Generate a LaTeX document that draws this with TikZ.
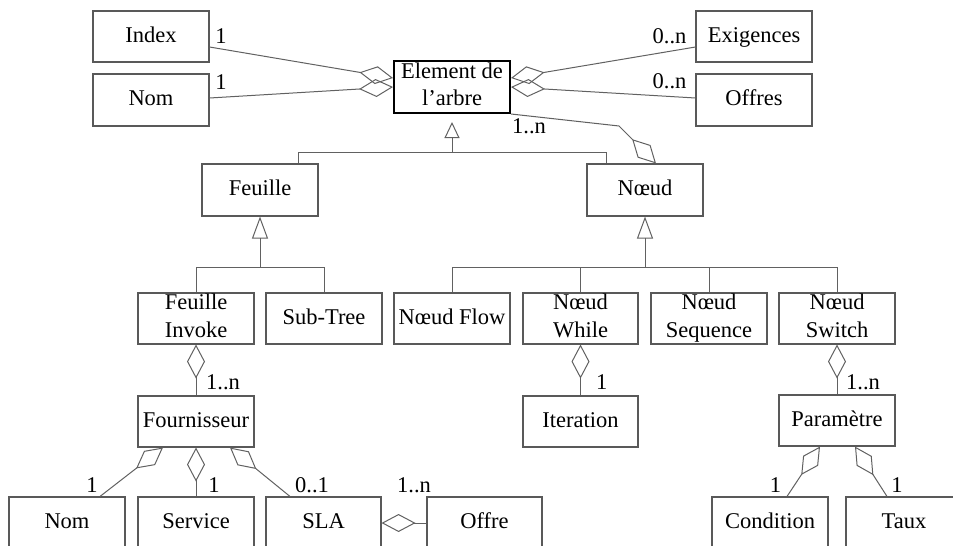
\documentclass[tikz,border=0pt]{standalone}
\usepackage{fontspec}
\setmainfont{Liberation Serif}
\usetikzlibrary{arrows.meta,calc}
\definecolor{linec}{gray}{0.38}
\definecolor{boxc}{gray}{0.35}
\newcommand{\topstrut}{\rule{0pt}{17pt}}
\newcommand{\botstrut}{\rule[-6pt]{0pt}{6pt}}
\begin{document}
\begin{tikzpicture}[x=1pt,y=-1pt,
  font=\fontsize{22.5}{27.5}\selectfont,
  box/.style={draw=boxc, line width=1.1pt, minimum width=116pt, minimum height=51pt, inner sep=0pt, align=center, text=black,
    execute at begin node=\topstrut, execute at end node=\botstrut},
  mainbox/.style={box, draw=black, line width=2pt},
  conn/.style={draw=linec, line width=1pt},
  agg/.style={conn, {Diamond[open,length=34pt,width=18pt]}-},
  gen/.style={conn, -{Triangle[open,length=22pt,width=16pt]}},
  lbl/.style={anchor=base, inner sep=0pt, text=black}
]
\path[use as bounding box] (0,0) rectangle (953,546);
\clip (0,0) rectangle (953,546);

% top row
\node[box] (Index) at (151,36.5) {Index};
\node[box, minimum height=52pt] (NomTop) at (151,100) {Nom};
\node[mainbox, minimum height=52pt] (Element) at (452,87) {Element de\\l’arbre};
\node[box] (Exigences) at (754,36.5) {Exigences};
\node[box, minimum height=52pt] (Offres) at (754,100) {Offres};

% second row
\node[box, minimum height=52pt] (Feuille) at (260,190) {Feuille};
\node[box, minimum height=52pt] (Noeud) at (645,190) {Nœud};

% third row
\node[box] (FInvoke) at (196,318.5) {Feuille\\Invoke};
\node[box] (SubTree) at (324,318.5) {Sub-Tree};
\node[box] (NFlow) at (452,318.5) {Nœud Flow};
\node[box, minimum width=115pt] (NWhile) at (580.5,318.5) {Nœud\\While};
\node[box] (NSeq) at (709,318.5) {Nœud\\Sequence};
\node[box] (NSwitch) at (837,318.5) {Nœud\\Switch};

% fourth row
\node[box] (Fournisseur) at (196,421.5) {Fournisseur};
\node[box, minimum width=115pt] (Iteration) at (580.5,421.5) {Iteration};
\node[box] (Parametre) at (837,420.5) {Paramètre};

% bottom row
\node[box, minimum height=52pt] (NomB) at (67,523) {Nom};
\node[box, minimum height=52pt] (Service) at (196,523) {Service};
\node[box, minimum height=52pt, minimum width=115pt] (SLA) at (323.5,523) {SLA};
\node[box, minimum height=52pt, minimum width=115pt] (Offre) at (484.5,523) {Offre};
\node[box, minimum height=52pt] (Condition) at (770,523) {Condition};
\node[box, minimum height=52pt] (Taux) at (904,523) {Taux};

% aggregations around Element
\draw[agg] ([yshift=9pt]Element.west) -- ([yshift=-10.5pt]Index.east);
\draw[agg] (Element.west) -- ([yshift=2pt]NomTop.east);
\draw[agg] ([yshift=9pt]Element.east) -- ([yshift=-10.5pt]Exigences.west);
\draw[agg] (Element.east) -- ([yshift=2pt]Offres.west);
\node[lbl] (l1) at (221,43) {1};
\node[lbl] (l2) at (221,89) {1};
\node[lbl] (l3) at (669.5,43) {0..n};
\node[lbl] (l4) at (669.5,88) {0..n};

% Element -- Noeud aggregation
\coordinate (b1) at (619,126);
\coordinate (b2) at (632,139);
\draw[agg] ([xshift=11pt]Noeud.north) -- (b2) -- (b1) -- (Element.south east);
\node[lbl] (l5) at (529,133) {1..n};

% generalization Element
\coordinate (busTop) at (452,152);
\draw[conn, -{Triangle[open,length=16pt,width=15pt]}, shorten >=8pt] (busTop) -- (Element.south);
\draw[conn] ([xshift=38pt]Feuille.north) |- (busTop);
\draw[conn] ([xshift=-39pt]Noeud.north) |- (busTop);

% generalization Feuille
\coordinate (fbus) at (260,267);
\draw[gen] (fbus) -- (Feuille.south);
\draw[conn] (FInvoke.north) |- (fbus);
\draw[conn] (SubTree.north) |- (fbus);

% generalization Noeud
\coordinate (nbus) at (645,267);
\draw[gen] (nbus) -- (Noeud.south);
\draw[conn] (NFlow.north) |- (nbus);
\draw[conn] (NWhile.north) |- (nbus);
\draw[conn] (NSeq.north) |- (nbus);
\draw[conn] (NSwitch.north) |- (nbus);

% vertical aggregations
\draw[agg] (FInvoke.south) -- (Fournisseur.north);
\node[lbl, anchor=base west] (l6) at (206,389) {1..n};
\draw[agg] (NWhile.south) -- (Iteration.north);
\node[lbl, anchor=base west] (l7) at (596,389) {1};
\draw[agg] (NSwitch.south) -- (Parametre.north);
\node[lbl, anchor=base west] (l8) at (846,389) {1..n};

% Fournisseur parts
\draw[agg] ([xshift=-33pt]Fournisseur.south) -- ([xshift=33pt]NomB.north);
\draw[agg] (Fournisseur.south) -- (Service.north);
\draw[agg] ([xshift=34pt]Fournisseur.south) -- ([xshift=-33.5pt]SLA.north);
\node[lbl] (l9) at (92,492) {1};
\node[lbl] (l10) at (214,492) {1};
\node[lbl] (l11) at (312,492) {0..1};
\draw[agg] (SLA.east) -- (Offre.west);
\node[lbl] (l12) at (414,492) {1..n};

% Parametre parts
\draw[agg] ([xshift=-17pt]Parametre.south) -- ([xshift=17pt]Condition.north);
\draw[agg] ([xshift=18pt]Parametre.south) -- ([xshift=-17pt]Taux.north);
\node[lbl] (l13) at (775.5,492) {1};
\node[lbl] (l14) at (897,492) {1};
\end{tikzpicture}
\end{document}
